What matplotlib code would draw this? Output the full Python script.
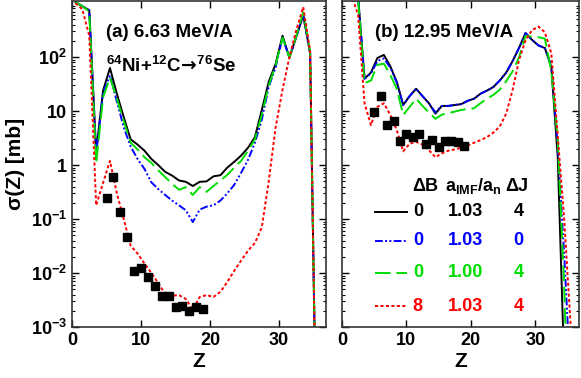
import numpy as np
import matplotlib
matplotlib.use('Agg')
import matplotlib.pyplot as plt
from matplotlib.ticker import FixedLocator, LogLocator, NullFormatter

plt.rcParams['font.family'] = ['Liberation Sans', 'DejaVu Sans']
plt.rcParams['font.weight'] = 'bold'
plt.rcParams['mathtext.fontset'] = 'custom'
plt.rcParams['mathtext.rm'] = 'Liberation Sans:bold'
plt.rcParams['mathtext.bf'] = 'Liberation Sans:bold'
plt.rcParams['mathtext.sf'] = 'DejaVu Sans'
plt.rcParams['mathtext.default'] = 'bf'

# calculated curves are given at Z + 0.5
z_calc = np.arange(37) + 0.5

# (a) 6.63 MeV/A
black_a = [1050, 880, 740, 1.75, 24, 63, 21, 7.7, 3.0, 2.4, 1.85, 1.3, 1.0, 0.75, 0.64,
           0.52, 0.49, 0.41, 0.49, 0.5, 0.62, 0.65, 0.9, 1.15, 1.5, 2.1, 3.3, 10.5, 35,
           75, 250, 98, 240, 600, 118, 1e-6, 1e-7]
blue_a = [1050, 880, 740, 1.6, 22, 46, 15, 5.0, 2.2, 1.3, 0.85, 0.48, 0.36, 0.28, 0.22,
          0.18, 0.145, 0.088, 0.15, 0.17, 0.18, 0.22, 0.3, 0.43, 0.72, 1.25, 2.6, 7.0, 28,
          65, 230, 98, 240, 600, 118, 1e-6, 1e-7]
green_a = [1050, 880, 700, 1.07, 18, 42, 17, 6.5, 2.6, 1.95, 1.4, 1.1, 0.8, 0.6, 0.45,
           0.35, 0.39, 0.28, 0.39, 0.32, 0.41, 0.52, 0.66, 0.9, 1.2, 1.85, 3.0, 8.5, 30,
           70, 230, 98, 250, 680, 125, 1e-6, 1e-7]
red_a = [1000, 770, 250, 0.18, 0.47, 1.2, 0.3, 0.1, 0.032, 0.023, 0.015, 0.01, 0.0065,
         0.0041, 0.0038, 0.0039, 0.0033, 0.0021, 0.0036, 0.0039, 0.0036, 0.0045, 0.0068,
         0.011, 0.017, 0.026, 0.036, 0.07, 0.5, 5.0, 25, 100, 320, 850, 130, 1e-6, 1e-7]

z_exp_a = [5, 6, 7, 8, 9, 10, 11, 12, 13, 14, 15, 16, 17, 18, 19]
exp_a = [0.245, 0.6, 0.135, 0.047, 0.011, 0.0122, 0.0083, 0.0057, 0.0037, 0.0037,
         0.0023, 0.0024, 0.002, 0.0023, 0.0022]

# (b) 12.95 MeV/A
black_b = [1500, 1500, 1300, 40, 52, 97, 110, 68, 35, 13, 19, 26, 19, 14, 9, 12.5, 12.5,
           13, 13.5, 15.5, 17, 21, 24, 28, 37, 52, 85, 150, 280, 210, 165, 148, 66, 1.4,
           2e-4, 1e-7, 1e-8]
blue_b = [1500, 1500, 1300, 40, 50, 85, 95, 64, 34, 13, 19, 26, 19, 14, 9.5, 12.5, 12.5,
          13, 13.5, 15.5, 17, 21, 24, 28, 37, 52, 85, 150, 280, 210, 165, 148, 70, 2.2,
          0.022, 1e-4, 1e-8]
green_b = [1500, 1500, 1200, 33, 37, 72, 76, 47, 26, 8.5, 12, 17, 12.5, 9.5, 7.2, 8.6,
           9.2, 9.8, 10.5, 11, 11.3, 14, 17, 20, 25, 36, 55, 100, 250, 240, 235, 220, 55,
           2.9, 0.0057, 1e-6, 1e-8]
red_b = [1500, 1400, 600, 14, 5.5, 12, 14, 8.5, 4.5, 1.8, 2.5, 2.7, 2.4, 1.9, 1.4, 1.65,
         1.85, 1.95, 2.1, 2.3, 2.6, 2.9, 3.3, 4.0, 5.2, 9, 25, 90, 205, 316, 370, 290, 118,
         3.5, 0.1, 1.1e-3, 1e-6]

z_exp_b = [5, 6, 7, 8, 9, 10, 11, 12, 13, 14, 15, 16, 17, 18, 19]
exp_b = [9.5, 19, 5.6, 6.5, 2.8, 3.7, 3.3, 3.7, 2.5, 2.9, 2.2, 2.8, 2.8, 2.7, 2.3]

# legend rows: dB, aIMF/an, dJ
leg_dB = ['0', '0', '0', '8']
leg_a = ['1.03', '1.03', '1.00', '1.03']
leg_dJ = ['4', '0', '4', '4']

colors = ['black', '#0000ff', '#00dd00', '#ff0000']
dashes = [None, (4, 1.2, 1, 1.2, 1, 1.2), (8, 3), (1.6, 1.2)]
lw = 1.4

fig = plt.figure(figsize=(5.81, 3.78), dpi=100)
ax1 = fig.add_axes([72 / 581, 51 / 378, 254 / 581, 326 / 378])
ax2 = fig.add_axes([342 / 581, 51 / 378, 237 / 581, 326 / 378])


def draw(ax, curves, zexp, yexp):
    for ys, c, d in zip(curves, colors, dashes):
        line, = ax.plot(z_calc, ys, color=c, lw=lw)
        if d is not None:
            line.set_dashes(d)
    ax.plot(zexp, yexp, 's', color='black', ms=5.4, zorder=5)
    ax.set_yscale('log')
    ax.set_ylim(1e-3, 1100)
    ax.set_xlim(0, 36.8)
    ax.xaxis.set_major_locator(FixedLocator([0, 10, 20, 30]))
    ax.yaxis.set_major_locator(FixedLocator([1e-3, 1e-2, 1e-1, 1, 10, 100]))
    ax.yaxis.set_minor_locator(LogLocator(base=10, subs=np.arange(2, 10), numticks=20))
    ax.yaxis.set_minor_formatter(NullFormatter())
    ax.tick_params(which='both', direction='in', top=True, right=True, labelsize=13)
    ax.tick_params(which='major', length=5, width=1)
    ax.tick_params(which='minor', length=2.5, width=0.8)
    ax.set_xlabel('Z', fontsize=15, fontweight='bold', labelpad=2)
    for s in ax.spines.values():
        s.set_color('#333333')
        s.set_linewidth(1.2)


draw(ax1, [black_a, blue_a, green_a, red_a], z_exp_a, exp_a)
draw(ax2, [black_b, blue_b, green_b, red_b], z_exp_b, exp_b)

ax1.set_yticklabels(['$10^{-3}$', '$10^{-2}$', '$10^{-1}$', '1', '10', '$10^{2}$'])
ax1.set_ylabel('σ(Z) [mb]', fontsize=15, fontweight='bold', labelpad=4)
ax2.set_yticklabels([])

ax1.text(0.134, 0.902, '(a) 6.63 MeV/A', transform=ax1.transAxes, fontsize=13.5,
         fontweight='bold', va='center')
ax1.text(0.134, 0.782, r'$^{64}$Ni+$^{12}$C$\!\mathsf{\rightarrow}\!$$^{76}$Se',
         transform=ax1.transAxes, fontsize=13.5, fontweight='bold', va='baseline')
ax2.text(0.139, 0.902, '(b) 12.95 MeV/A', transform=ax2.transAxes, fontsize=13.5,
         fontweight='bold', va='center')

# legend as a small table
ax2.text(0.35, 0.432, 'ΔB', transform=ax2.transAxes, fontsize=13, ha='center', va='center')
ax2.text(0.556, 0.432, r'a$_{IMF}$/a$_{n}$', transform=ax2.transAxes, fontsize=13,
         ha='center', va='center')
ax2.text(0.737, 0.432, 'ΔJ', transform=ax2.transAxes, fontsize=13, ha='center', va='center')
row_y = [0.354, 0.264, 0.167, 0.064]
for i, y in enumerate(row_y):
    key, = ax2.plot([0.139, 0.274], [y, y], transform=ax2.transAxes, color=colors[i], lw=lw)
    if dashes[i] is not None:
        key.set_dashes(dashes[i])
    ax2.text(0.32, y, leg_dB[i], transform=ax2.transAxes, fontsize=13, color=colors[i],
             ha='center', va='center')
    ax2.text(0.523, y, leg_a[i], transform=ax2.transAxes, fontsize=13, color=colors[i],
             ha='center', va='center')
    ax2.text(0.746, y, leg_dJ[i], transform=ax2.transAxes, fontsize=13, color=colors[i],
             ha='center', va='center')

fig.savefig('out.png', dpi=100)
